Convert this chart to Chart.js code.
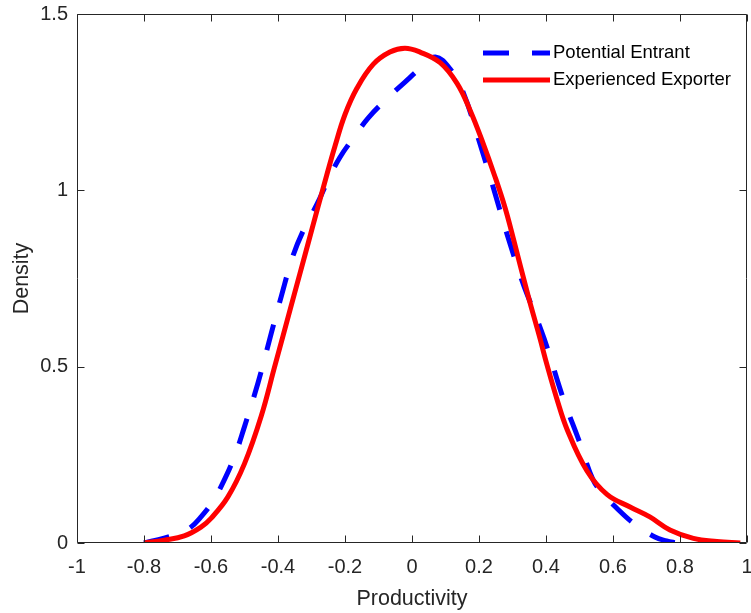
<!DOCTYPE html>
<html>
<head>
<meta charset="UTF-8">
<title>Productivity Density</title>
<style>
	body { margin: 0; background: #fff; }
	#wrap { width: 751px; height: 613px; position: relative; }
</style>
</head>
<body>
<div id="wrap"><canvas id="densityChart"></canvas></div>

<script src="https://cdn.jsdelivr.net/npm/chart.js"></script>
<script>
	// x axis ticks
	const xTickValues = [-1, -0.8, -0.6, -0.4, -0.2, 0, 0.2, 0.4, 0.6, 0.8, 1];
	const xTickLabels = ['-1', '-0.8', '-0.6', '-0.4', '-0.2', '0', '0.2', '0.4', '0.6', '0.8', '1'];
	// y axis ticks
	const yTickValues = [0, 0.5, 1, 1.5];
	const yTickLabels = ['0', '0.5', '1', '1.5'];

	// Potential Entrant (dashed blue)
	const entrantX = [-0.80, -0.74, -0.69, -0.66, -0.63, -0.60, -0.57, -0.53, -0.50, -0.46, -0.42, -0.39, -0.355, -0.32, -0.284, -0.25, -0.215, -0.17, -0.131, -0.08, -0.021, 0.03, 0.07, 0.113, 0.152, 0.197, 0.242, 0.284, 0.328, 0.352, 0.382, 0.406, 0.45, 0.501, 0.54, 0.57, 0.61, 0.66, 0.725, 0.76, 0.79];
	const entrantY = [0, 0.014, 0.03, 0.045, 0.074, 0.11, 0.16, 0.245, 0.33, 0.453, 0.595, 0.70, 0.815, 0.895, 0.96, 1.03, 1.094, 1.155, 1.205, 1.255, 1.307, 1.35, 1.378, 1.345, 1.28, 1.15, 1.01, 0.875, 0.745, 0.685, 0.612, 0.547, 0.414, 0.284, 0.18, 0.14, 0.10, 0.057, 0.017, 0.006, 0];

	// Experienced Exporter (solid red)
	const exporterX = [-0.80, -0.74, -0.68, -0.63, -0.60, -0.55, -0.50, -0.45, -0.41, -0.36, -0.31, -0.28, -0.254, -0.23, -0.20, -0.164, -0.116, -0.066, -0.021, 0.024, 0.084, 0.134, 0.173, 0.212, 0.248, 0.278, 0.302, 0.347, 0.382, 0.403, 0.432, 0.463, 0.522, 0.582, 0.651, 0.71, 0.77, 0.84, 0.91, 0.98];
	const exporterY = [0, 0.008, 0.02, 0.045, 0.07, 0.13, 0.225, 0.36, 0.50, 0.675, 0.85, 0.955, 1.045, 1.125, 1.215, 1.29, 1.357, 1.392, 1.403, 1.392, 1.362, 1.304, 1.228, 1.134, 1.038, 0.95, 0.865, 0.70, 0.58, 0.505, 0.41, 0.322, 0.205, 0.138, 0.102, 0.074, 0.037, 0.013, 0.004, 0];

	const axisColor = '#262626';
	const fontFamily = "'Liberation Sans', Arial, sans-serif";

	function toPoints(xs, ys){
		return xs.map(function(x, i){ return {x: x, y: ys[i]}; });
	}

	// box + inward tick marks (MATLAB style)
	const boxPlugin = {
		id: 'boxPlugin',
		afterDatasetsDraw: function(chart){
			const ctx = chart.ctx;
			const a = chart.chartArea;
			const xs = chart.scales.x, ys = chart.scales.y;
			const L = Math.round(a.left) + 0.5, R = Math.round(a.right) - 0.5;
			const T = Math.round(a.top) + 0.5, B = Math.round(a.bottom) - 0.5;
			const len = 7;
			ctx.save();
			ctx.strokeStyle = axisColor;
			ctx.lineWidth = 1;
			ctx.beginPath();
			ctx.rect(L, T, R - L, B - T);
			xTickValues.forEach(function(v){
				const px = Math.round(xs.getPixelForValue(v)) + 0.5;
				ctx.moveTo(px, B); ctx.lineTo(px, B - len);
				ctx.moveTo(px, T); ctx.lineTo(px, T + len);
			});
			yTickValues.forEach(function(v){
				const py = Math.round(ys.getPixelForValue(v)) + 0.5;
				ctx.moveTo(L, py); ctx.lineTo(L + len, py);
				ctx.moveTo(R, py); ctx.lineTo(R - len, py);
			});
			ctx.stroke();
			ctx.restore();
		}
	};

	// legend inside the plot, top right, no frame
	const legendPlugin = {
		id: 'insideLegend',
		afterDraw: function(chart){
			const ctx = chart.ctx;
			const a = chart.chartArea;
			const lineStart = a.right - 264, lineEnd = a.right - 197;
			const textX = a.right - 194;
			const rows = [a.top + 39, a.top + 66];
			ctx.save();
			chart.data.datasets.forEach(function(ds, i){
				const y = rows[i];
				ctx.strokeStyle = ds.borderColor;
				ctx.lineWidth = ds.borderWidth;
				ctx.lineCap = 'butt';
				ctx.setLineDash(ds.borderDash || []);
				ctx.beginPath();
				ctx.moveTo(lineStart, y);
				ctx.lineTo(lineEnd, y);
				ctx.stroke();
				ctx.setLineDash([]);
				ctx.fillStyle = '#000';
				ctx.font = '18.5px ' + fontFamily;
				ctx.textBaseline = 'middle';
				ctx.textAlign = 'left';
				ctx.fillText(ds.label, textX, y);
			});
			ctx.restore();
		}
	};

	const ctx = document.getElementById('densityChart').getContext('2d');
	const densityChart = new Chart(ctx, {
		type: 'line',
		data: {
			datasets: [
				{
					label: 'Potential Entrant',
					data: toPoints(entrantX, entrantY),
					borderColor: '#0000ff',
					borderWidth: 5,
					borderDash: [26, 23],
					borderCapStyle: 'butt',
					pointRadius: 0,
					tension: 0.4,
					fill: false,
					order: 2
				},
				{
					label: 'Experienced Exporter',
					data: toPoints(exporterX, exporterY),
					borderColor: '#ff0000',
					borderWidth: 5,
					borderCapStyle: 'butt',
					pointRadius: 0,
					tension: 0.4,
					fill: false,
					order: 1
				}
			]
		},
		options: {
			responsive: true,
			maintainAspectRatio: false,
			animation: false,
			layout: { padding: { top: 14, right: 4, left: 0, bottom: 0 } },
			plugins: {
				legend: { display: false },
				tooltip: { enabled: false }
			},
			scales: {
				x: {
					type: 'linear',
					min: -1,
					max: 1,
					afterBuildTicks: function(scale){
						scale.ticks = xTickValues.map(function(v){ return {value: v}; });
					},
					afterFit: function(scale){
						scale.height = 70;
						scale.paddingLeft = 0;
						scale.paddingRight = 0;
					},
					ticks: {
						autoSkip: false,
						maxRotation: 0,
						padding: 12,
						color: axisColor,
						font: { family: fontFamily, size: 20 },
						callback: function(value){
							const i = xTickValues.indexOf(value);
							return i >= 0 ? xTickLabels[i] : '';
						}
					},
					grid: { display: true, drawOnChartArea: false, drawTicks: false },
					border: { display: false },
					title: {
						display: true,
						text: 'Productivity',
						color: axisColor,
						font: { family: fontFamily, size: 21.5, lineHeight: 1.2 },
						padding: { top: 0, bottom: 1 }
					}
				},
				y: {
					type: 'linear',
					min: 0,
					max: 1.5,
					afterBuildTicks: function(scale){
						scale.ticks = yTickValues.map(function(v){ return {value: v}; });
					},
					afterFit: function(scale){
						scale.width = 77;
						scale.paddingTop = 0;
						scale.paddingBottom = 0;
					},
					ticks: {
						autoSkip: false,
						padding: 9,
						color: axisColor,
						font: { family: fontFamily, size: 20 },
						callback: function(value){
							const i = yTickValues.indexOf(value);
							return i >= 0 ? yTickLabels[i] : '';
						}
					},
					grid: { display: true, drawOnChartArea: false, drawTicks: false },
					border: { display: false },
					title: {
						display: true,
						text: 'Density',
						color: axisColor,
						font: { family: fontFamily, size: 21.5, lineHeight: 1.2 },
						padding: { top: 9, bottom: 0 }
					}
				}
			}
		},
		plugins: [boxPlugin, legendPlugin]
	});
</script>
</body>
</html>
